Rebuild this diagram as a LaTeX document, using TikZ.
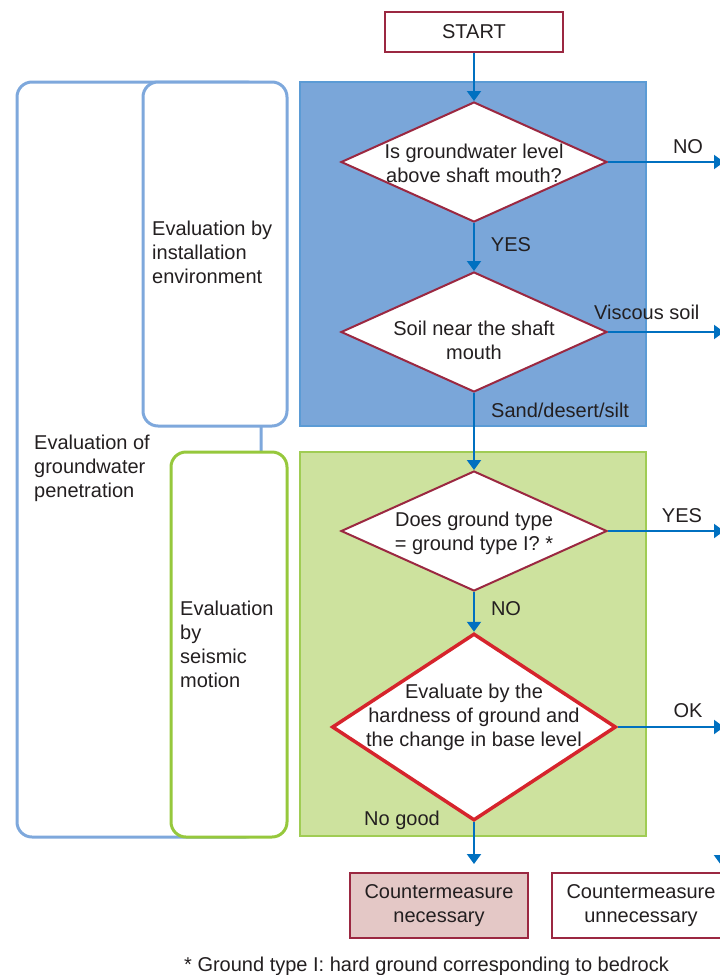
\documentclass[tikz,border=0pt]{standalone}
\usepackage{fontspec}
\setmainfont{Liberation Sans}
\usepackage{tikz}
\usetikzlibrary{positioning}
\usetikzlibrary{shapes.geometric}
\usetikzlibrary{arrows.meta}

\definecolor{inkgray}{RGB}{35,31,32}
\definecolor{zoneblue}{RGB}{122,166,217}
\definecolor{zonebluerim}{RGB}{91,155,213}
\definecolor{zonegreen}{RGB}{205,226,158}
\definecolor{zonegreenrim}{RGB}{160,204,84}
\definecolor{bracketblue}{RGB}{126,168,220}
\definecolor{bracketgreen}{RGB}{150,200,60}
\definecolor{flowblue}{RGB}{0,112,192}
\definecolor{darkred}{RGB}{155,40,65}
\definecolor{brightred}{RGB}{214,36,44}
\definecolor{pinkfill}{RGB}{228,200,198}

\tikzset{
  every node/.style={font=\fontsize{20}{24}\selectfont, text=inkgray},
  decision/.style={diamond, draw=darkred, line width=2pt, fill=white,
    minimum width=266pt, minimum height=120pt, inner sep=0pt},
  qtext/.style={align=center, inner sep=0pt},
  endbox/.style={draw=darkred, line width=2pt, minimum width=178pt,
    minimum height=65pt, align=center, inner sep=0pt},
  flow/.style={draw=flowblue, line width=2pt, -{Triangle[width=14pt,length=10pt]}},
  sidetext/.style={align=left, anchor=north west, inner sep=0pt},
  bracketb/.style={draw=bracketblue, line width=3pt, rounded corners=15pt},
  bracketg/.style={draw=bracketgreen, line width=3pt, rounded corners=15pt},
}

\begin{document}
\begin{tikzpicture}[x=1pt,y=-1pt]
\useasboundingbox (0,0) rectangle (720,975);
\clip (0,0) rectangle (720,975);

% zones
\draw[fill=zoneblue, draw=zonebluerim, line width=2pt] (300,82) rectangle (646,426);
\draw[fill=zonegreen, draw=zonegreenrim, line width=2pt] (300,452) rectangle (646,836);

% brackets on the left
\draw[bracketb] (17,82) rectangle (261,837);
\draw[bracketb, fill=white] (143,82) rectangle (287,426);
\draw[bracketg, fill=white] (171,452) rectangle (287,837);

\node[sidetext] (envtext) at (152,221) {Evaluation by\\installation\\environment};
\node[sidetext] (gwtext) at (34,435) {Evaluation of\\groundwater\\penetration};
\node[sidetext] (seistext) at (180,601) {Evaluation\\by\\seismic\\motion};

% flow
\node[endbox, minimum height=40pt, fill=white] (start) at (474,32) {START};

\node[decision] (q1) at (474,162) {};
\node[qtext] (q1text) at (474,163) {Is groundwater level\\above shaft mouth?};

\node[decision] (q2) at (474,332) {};
\node[qtext] (q2text) at (474,340) {Soil near the shaft\\mouth};

\node[decision] (q3) at (474,531) {};
\node[qtext] (q3text) at (474,533) {Does ground type\\= ground type I? *};

\node[decision, draw=brightred, line width=3.5pt, minimum width=284pt,
  minimum height=187pt] (q4) at (474,727) {};
\node[qtext] (q4text) at (474,717) {Evaluate by the\\hardness of ground and\\the change in base level};

\node[endbox, fill=pinkfill] (need) at (439,905.5) {Countermeasure\\necessary};
\node[endbox, fill=white] (noneed) at (641,905.5) {Countermeasure\\unnecessary};

\coordinate (noend) at (724,162);
\coordinate (viscend) at (724,332);
\coordinate (yesend) at (724,531);
\coordinate (okend) at (724,727);
\coordinate (needtop) at ([yshift=8pt]need.north);
\coordinate (rightdown) at (721,836);
\coordinate (righttip) at (721,865);

\draw[flow] (start) -- (q1);
\draw[flow] (q1) -- (q2);
\draw[flow] (q2) -- (q3);
\draw[flow] (q3) -- (q4);
\draw[flow] (q4.south) -- (needtop -| q4.south);
\draw[flow] (q1.east) -- (noend);
\draw[flow] (q2.east) -- (viscend);
\draw[flow] (q3.east) -- (yesend);
\draw[flow] (q4.east) -- (okend);
\draw[flow] (rightdown) -- (righttip);

% labels
\node (nolbl) at (688,147) {NO};
\node (yeslbl) at (511,245) {YES};
\node[anchor=west, inner sep=0pt] (visclbl) at (594,312) {Viscous soil};
\node[anchor=west, inner sep=0pt] (sandlbl) at (491,410) {Sand/desert/silt};
\node (yes2lbl) at (682,516) {YES};
\node (no2lbl) at (506,609) {NO};
\node (oklbl) at (688,711) {OK};
\node (nogoodlbl) at (402,820) {No good};

\node[anchor=base west, inner sep=0pt] (footnote) at (184,971)
  {* Ground type I: hard ground corresponding to bedrock};
\end{tikzpicture}
\end{document}
